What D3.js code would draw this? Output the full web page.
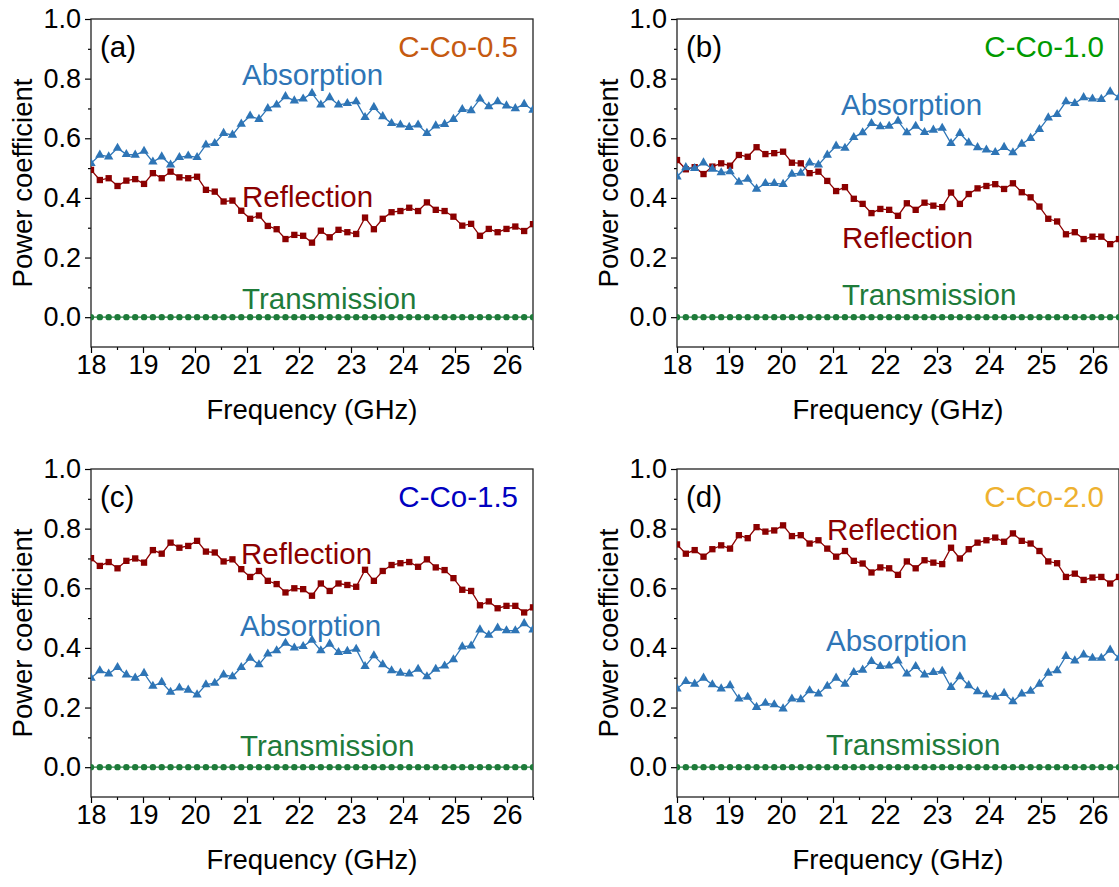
<!DOCTYPE html>
<html>
<head>
<meta charset="utf-8">
<script src="https://cdn.jsdelivr.net/npm/d3@7"></script>
<style>
  html, body { margin: 0; padding: 0; background: #fff; }
  svg { display: block; font-family: "Liberation Sans", Arial, sans-serif; }
</style>
</head>
<body>
<svg id="chart" width="1119" height="887"></svg>
<script>
// Frequency sweep (GHz), 51 points over the K band
const frequency = [18.00, 18.17, 18.34, 18.51, 18.68, 18.85, 19.02, 19.19, 19.36, 19.53,
  19.70, 19.87, 20.04, 20.21, 20.38, 20.55, 20.72, 20.89, 21.06, 21.23,
  21.40, 21.57, 21.74, 21.91, 22.08, 22.25, 22.42, 22.59, 22.76, 22.93,
  23.10, 23.27, 23.44, 23.61, 23.78, 23.95, 24.12, 24.29, 24.46, 24.63,
  24.80, 24.97, 25.14, 25.31, 25.48, 25.65, 25.82, 25.99, 26.16, 26.33, 26.50];

// C-Co-0.5
const absorption05 = [0.516, 0.544, 0.538, 0.567, 0.546, 0.544, 0.557, 0.521, 0.538, 0.511,
  0.536, 0.541, 0.536, 0.578, 0.583, 0.617, 0.611, 0.648, 0.675, 0.664,
  0.700, 0.712, 0.740, 0.726, 0.732, 0.751, 0.712, 0.737, 0.712, 0.717,
  0.723, 0.670, 0.704, 0.673, 0.650, 0.645, 0.637, 0.645, 0.617, 0.642,
  0.647, 0.664, 0.697, 0.693, 0.732, 0.706, 0.723, 0.709, 0.700, 0.714, 0.695];
const reflection05 = [0.494, 0.460, 0.466, 0.440, 0.458, 0.463, 0.447, 0.483, 0.466, 0.488,
  0.469, 0.466, 0.471, 0.427, 0.421, 0.388, 0.391, 0.357, 0.330, 0.341,
  0.306, 0.295, 0.262, 0.276, 0.273, 0.250, 0.290, 0.268, 0.293, 0.285,
  0.279, 0.334, 0.295, 0.330, 0.352, 0.356, 0.367, 0.356, 0.385, 0.360,
  0.356, 0.337, 0.307, 0.313, 0.273, 0.296, 0.285, 0.296, 0.304, 0.289, 0.312];

// C-Co-1.0
const absorption10 = [0.471, 0.502, 0.499, 0.518, 0.497, 0.485, 0.488, 0.453, 0.463, 0.430,
  0.449, 0.449, 0.446, 0.480, 0.483, 0.518, 0.511, 0.544, 0.574, 0.567,
  0.603, 0.619, 0.650, 0.639, 0.641, 0.658, 0.619, 0.641, 0.620, 0.628,
  0.634, 0.583, 0.617, 0.585, 0.569, 0.561, 0.553, 0.570, 0.552, 0.581,
  0.600, 0.630, 0.669, 0.680, 0.723, 0.717, 0.737, 0.732, 0.731, 0.756, 0.737];
const reflection10 = [0.527, 0.496, 0.503, 0.480, 0.505, 0.516, 0.508, 0.544, 0.538, 0.570,
  0.547, 0.550, 0.555, 0.518, 0.516, 0.483, 0.488, 0.457, 0.423, 0.436,
  0.397, 0.380, 0.349, 0.363, 0.360, 0.340, 0.382, 0.360, 0.384, 0.374,
  0.369, 0.418, 0.380, 0.413, 0.432, 0.440, 0.446, 0.430, 0.449, 0.419,
  0.402, 0.371, 0.330, 0.321, 0.278, 0.285, 0.262, 0.270, 0.270, 0.245, 0.262];

// C-Co-1.5
const absorption15 = [0.299, 0.324, 0.313, 0.335, 0.310, 0.299, 0.315, 0.272, 0.285, 0.252,
  0.266, 0.259, 0.243, 0.277, 0.282, 0.310, 0.304, 0.335, 0.366, 0.344,
  0.380, 0.391, 0.416, 0.400, 0.405, 0.426, 0.391, 0.413, 0.385, 0.389,
  0.396, 0.338, 0.374, 0.344, 0.324, 0.316, 0.313, 0.329, 0.304, 0.329,
  0.340, 0.361, 0.404, 0.407, 0.461, 0.443, 0.467, 0.458, 0.458, 0.482, 0.461];
const reflection15 = [0.701, 0.675, 0.688, 0.667, 0.692, 0.700, 0.686, 0.728, 0.716, 0.753,
  0.736, 0.742, 0.759, 0.723, 0.720, 0.690, 0.697, 0.664, 0.638, 0.658,
  0.625, 0.614, 0.586, 0.600, 0.597, 0.575, 0.616, 0.591, 0.616, 0.611,
  0.605, 0.662, 0.625, 0.658, 0.678, 0.684, 0.688, 0.672, 0.697, 0.670,
  0.661, 0.634, 0.595, 0.591, 0.543, 0.556, 0.533, 0.541, 0.541, 0.519, 0.536];

// C-Co-2.0
const absorption20 = [0.263, 0.288, 0.279, 0.299, 0.277, 0.263, 0.274, 0.229, 0.235, 0.201,
  0.215, 0.210, 0.196, 0.229, 0.227, 0.257, 0.246, 0.272, 0.299, 0.279,
  0.318, 0.326, 0.355, 0.338, 0.340, 0.357, 0.313, 0.338, 0.310, 0.318,
  0.322, 0.268, 0.304, 0.274, 0.254, 0.243, 0.235, 0.248, 0.220, 0.246,
  0.255, 0.279, 0.316, 0.324, 0.372, 0.357, 0.377, 0.366, 0.366, 0.393, 0.366];
const reflection20 = [0.747, 0.716, 0.728, 0.706, 0.731, 0.744, 0.733, 0.778, 0.768, 0.805,
  0.790, 0.794, 0.811, 0.775, 0.778, 0.750, 0.761, 0.733, 0.706, 0.725,
  0.692, 0.683, 0.653, 0.670, 0.667, 0.645, 0.690, 0.667, 0.694, 0.686,
  0.681, 0.736, 0.700, 0.731, 0.753, 0.761, 0.770, 0.756, 0.784, 0.759,
  0.750, 0.725, 0.690, 0.684, 0.638, 0.649, 0.628, 0.636, 0.638, 0.616, 0.638];

// Transmission is zero across the band for every sample
const transmission = [0, 0, 0, 0, 0, 0, 0, 0, 0, 0,
  0, 0, 0, 0, 0, 0, 0, 0, 0, 0,
  0, 0, 0, 0, 0, 0, 0, 0, 0, 0,
  0, 0, 0, 0, 0, 0, 0, 0, 0, 0,
  0, 0, 0, 0, 0, 0, 0, 0, 0, 0, 0];

const panelLabels = ["(a)", "(b)", "(c)", "(d)"];
const sampleNames = ["C-Co-0.5", "C-Co-1.0", "C-Co-1.5", "C-Co-2.0"];
const yTicks = [0.0, 0.2, 0.4, 0.6, 0.8, 1.0];
const yMinorTicks = [0.1, 0.3, 0.5, 0.7, 0.9];
const xTicks = [18, 19, 20, 21, 22, 23, 24, 25, 26];
const xMinorTicks = [18.5, 19.5, 20.5, 21.5, 22.5, 23.5, 24.5, 25.5, 26.5];

// Colours
const C_ABS = "#2E75B6", C_REF = "#8B0000", C_TRN = "#1E7B3A";
const sampleColors = ["#C55A11", "#009A00", "#0000C0", "#EEB12F"];

// Panel layout: origin of each plot box and where its curve labels sit
const PW = 442, PH = 328;
const panels = [
  { x0: 91,  y0: 19,  abs: absorption05, ref: reflection05,
    tAbs: [242, 74], tRef: [242, 196], tTrn: [242, 298] },
  { x0: 677, y0: 19,  abs: absorption10, ref: reflection10,
    tAbs: [841, 104], tRef: [842, 237], tTrn: [842, 294] },
  { x0: 91,  y0: 469, abs: absorption15, ref: reflection15,
    tAbs: [240, 625], tRef: [241, 553], tTrn: [240, 745] },
  { x0: 677, y0: 469, abs: absorption20, ref: reflection20,
    tAbs: [826, 640], tRef: [827, 529], tTrn: [826, 744] }
];

const svg = d3.select("#chart");
const FONT_TICK = 27, FONT_TITLE = 27.5, FONT_NOTE = 29.5;

panels.forEach((p, k) => {
  const g = svg.append("g").attr("transform", `translate(${p.x0},${p.y0})`);
  const x = d3.scaleLinear().domain([18, 26.5]).range([0, PW]);
  const y = d3.scaleLinear().domain([-0.1, 1.0]).range([PH, 0]);

  // clip curves to the plot box
  const clipId = "clip" + k;
  g.append("clipPath").attr("id", clipId)
    .append("rect").attr("width", PW).attr("height", PH);

  // axes
  const yAxis = g.append("g").call(d3.axisLeft(y).tickValues(yTicks)
    .tickFormat(d3.format(".1f")).tickSize(6).tickPadding(4).tickSizeOuter(0));
  g.append("g").call(d3.axisLeft(y).tickValues(yMinorTicks)
    .tickFormat("").tickSize(3).tickSizeOuter(0));
  const xAxis = g.append("g").attr("transform", `translate(0,${PH})`)
    .call(d3.axisBottom(x).tickValues(xTicks).tickFormat(d3.format("d"))
      .tickSize(6).tickPadding(2).tickSizeOuter(0));
  g.append("g").attr("transform", `translate(0,${PH})`)
    .call(d3.axisBottom(x).tickValues(xMinorTicks).tickFormat("")
      .tickSize(3).tickSizeOuter(0));
  g.selectAll(".domain").remove();
  g.selectAll(".tick line").attr("stroke", "#000").attr("stroke-width", 1.2);
  [yAxis, xAxis].forEach(a => a.selectAll("text")
    .attr("font-size", FONT_TICK).attr("fill", "#000")
    .attr("font-family", "Liberation Sans, Arial, sans-serif"));

  // frame
  g.append("rect").attr("width", PW).attr("height", PH)
    .attr("fill", "none").attr("stroke", "#222").attr("stroke-width", 1.3);

  // axis titles
  g.append("text").attr("x", PW / 2).attr("y", PH + 62)
    .attr("text-anchor", "middle").attr("dominant-baseline", "central")
    .attr("font-size", FONT_TITLE).text("Frequency (GHz)");
  g.append("text")
    .attr("transform", `translate(${-69},${PH / 2}) rotate(-90)`)
    .attr("text-anchor", "middle").attr("dominant-baseline", "central")
    .attr("font-size", FONT_TITLE).text("Power coefficient");

  // curves
  const plot = g.append("g").attr("clip-path", `url(#${clipId})`);
  const line = d3.line().x((d, i) => x(frequency[i])).y(d => y(d));
  const series = [
    { values: transmission, color: C_TRN, symbol: d3.symbolCircle, size: 32 },
    { values: p.ref, color: C_REF, symbol: d3.symbolSquare, size: 40 },
    { values: p.abs, color: C_ABS, symbol: d3.symbolTriangle, size: 38 }
  ];
  series.forEach(s => {
    plot.append("path").datum(s.values).attr("d", line)
      .attr("fill", "none").attr("stroke", s.color).attr("stroke-width", 1.3);
    plot.selectAll(null).data(s.values).enter().append("path")
      .attr("transform", (d, i) => `translate(${x(frequency[i])},${y(d)})`)
      .attr("d", d3.symbol().type(s.symbol).size(s.size))
      .attr("fill", s.color);
  });

  // panel letter and sample name
  g.append("text").attr("x", 9).attr("y", 27).attr("dominant-baseline", "central")
    .attr("font-size", FONT_NOTE).attr("fill", "#000").text(panelLabels[k]);
  g.append("text").attr("x", PW - 15).attr("y", 27).attr("text-anchor", "end")
    .attr("dominant-baseline", "central").attr("font-size", FONT_NOTE)
    .attr("fill", sampleColors[k]).text(sampleNames[k]);

  // curve labels (absolute coordinates)
  const note = (pos, txt, col) => svg.append("text")
    .attr("x", pos[0]).attr("y", pos[1]).attr("dominant-baseline", "central")
    .attr("font-size", FONT_NOTE).attr("fill", col).text(txt);
  note(p.tAbs, "Absorption", C_ABS);
  note(p.tRef, "Reflection", C_REF);
  note(p.tTrn, "Transmission", C_TRN);
});
</script>
</body>
</html>
